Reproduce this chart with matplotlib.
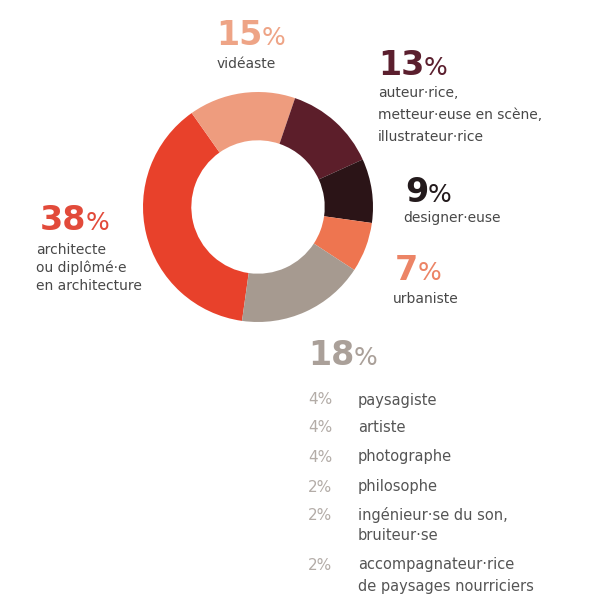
import matplotlib
matplotlib.use("Agg")
import matplotlib.pyplot as plt

# parts of the ring, clockwise from the bottom
shares = [38, 15, 13, 9, 7, 18]
share_labels = ["38", "15", "13", "9", "7", "18"]
names = [
    "architecte\nou diplômé·e\nen architecture",
    "vidéaste",
    "auteur·rice,\nmetteur·euse en scène,\nillustrateur·rice",
    "designer·euse",
    "urbaniste",
    "",
]
ring_colors = ["#e8412b", "#ee9c7e", "#5c1e2a", "#2b1417", "#ee7550", "#a69a90"]
text_colors = ["#e24a3a", "#eea486", "#5b1f2e", "#231a1c", "#ec8466", "#aaa099"]

# detail of the 18 %
other_shares = ["4", "4", "4", "2", "2", "2"]
other_names = [
    "paysagiste",
    "artiste",
    "photographe",
    "philosophe",
    "ingénieur·se du son,\nbruiteur·se",
    "accompagnateur·rice\nde paysages nourriciers",
]

W, H = 598, 601
fig = plt.figure(figsize=(W / 100, H / 100), dpi=100)
fig.patch.set_facecolor("white")
renderer = fig.canvas.get_renderer()


def fx(x):
    return x / W


def fy(y):
    return 1 - y / H


# ring: centre (258, 207), outer radius 115 px
cx, cy, r = 258, 207, 115
ax = fig.add_axes([fx(cx - r), fy(cy + r), 2 * r / W, 2 * r / H])
ax.pie(shares, colors=ring_colors, startangle=262, counterclock=False,
       wedgeprops=dict(width=0.42, linewidth=0))
ax.set_xlim(-1, 1)
ax.set_ylim(-1, 1)
ax.axis("off")


def big_pct(x, y, num, color, size=24):
    t = fig.text(fx(x), fy(y), num, fontsize=size, color=color,
                 fontweight="bold", ha="left", va="baseline")
    bb = t.get_window_extent(renderer)
    fig.text((bb.x1 - 1) / W, fy(y), "%", fontsize=size * 0.75, color=color,
             ha="left", va="baseline")


def lines(x, y, text, step, size=10, color="#484848"):
    for i, line in enumerate(text.split("\n")):
        fig.text(fx(x), fy(y + i * step), line, fontsize=size, color=color,
                 ha="left", va="center")


# (x, baseline of big number), (x, centre of first text line), line step
big_pos = [(40, 230), (216, 45), (378, 75), (405, 202), (395, 280), (308, 365)]
txt_pos = [(36, 250), (217, 64), (378, 93), (403, 218), (393, 299), None]
steps = [18, 20, 22, 20, 20, 20]

for i in range(len(shares)):
    bx, by = big_pos[i]
    big_pct(bx, by, share_labels[i], text_colors[i])
    if txt_pos[i] is not None:
        tx, ty = txt_pos[i]
        lines(tx, ty, names[i], steps[i])

# list under the 18 %
row_y = [400, 428, 457, 487, 515, 565]
for s, name, y in zip(other_shares, other_names, row_y):
    fig.text(fx(308), fy(y), s + "%", fontsize=11, color="#b3aca7",
             ha="left", va="center")
    lines(358, y, name, 21, size=10.5, color="#555555")

fig.savefig("out.png", dpi=100, facecolor="white")
